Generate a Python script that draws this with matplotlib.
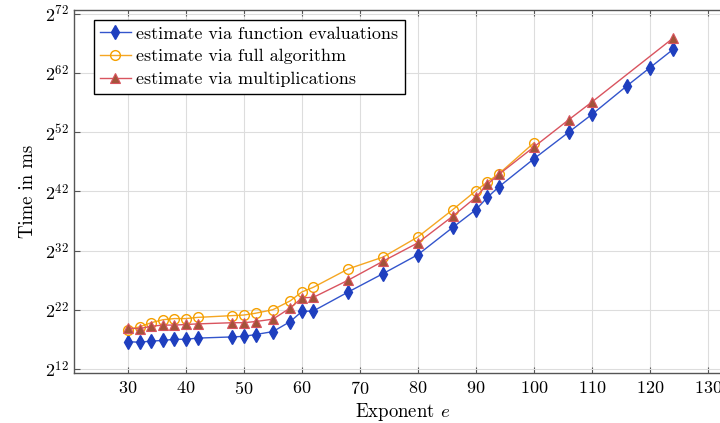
import numpy as np
import matplotlib
matplotlib.use("Agg")
import matplotlib.pyplot as plt
from matplotlib.ticker import FixedLocator, FuncFormatter

plt.rcParams['font.family'] = 'serif'
plt.rcParams['font.serif'] = ['cmr10', 'DejaVu Serif']
plt.rcParams['mathtext.fontset'] = 'cm'
plt.rcParams['axes.formatter.use_mathtext'] = True

# Data (log2 of time in ms)
e_func = [30, 32, 34, 36, 38, 40, 42, 48, 50, 52, 55, 58, 60, 62, 68, 74, 80, 86, 90, 92, 94, 100, 106, 110, 116, 120, 124]
log2_func = [16.6, 16.5, 16.7, 16.8, 17.0, 17.0, 17.2, 17.4, 17.5, 17.8, 18.3, 20.0, 21.7, 21.8, 25.0, 28.1, 31.3, 35.9, 38.9, 41.0, 42.8, 47.5, 52.0, 55.0, 59.8, 62.9, 66.0]

e_full = [30, 32, 34, 36, 38, 40, 42, 48, 50, 52, 55, 58, 60, 62, 68, 74, 80, 86, 90, 92, 94, 100]
log2_full = [18.6, 19.1, 19.8, 20.3, 20.5, 20.5, 20.7, 21.0, 21.1, 21.4, 22.0, 23.5, 25.0, 25.8, 28.9, 30.9, 34.3, 38.9, 42.1, 43.6, 45.0, 50.2]

e_mult = [30, 32, 34, 36, 38, 40, 42, 48, 50, 52, 55, 58, 60, 62, 68, 74, 80, 86, 90, 92, 94, 100, 106, 110, 124]
log2_mult = [18.9, 18.8, 19.2, 19.4, 19.4, 19.5, 19.6, 19.8, 19.8, 20.0, 20.4, 22.3, 24.0, 24.1, 27.0, 30.2, 33.3, 37.8, 41.0, 43.2, 44.9, 49.5, 54.1, 57.1, 67.9]

x_ticks = [30, 40, 50, 60, 70, 80, 90, 100, 110, 120, 130]
y_tick_exps = [12, 22, 32, 42, 52, 62, 72]

labels = ["estimate via function evaluations",
          "estimate via full algorithm",
          "estimate via multiplications"]

fig = plt.figure(figsize=(7.2, 4.23), dpi=100)
ax = fig.add_axes([74/720, 1-373/423, 657/720, 363.5/423])

ax.plot(e_func, 2.0**np.array(log2_func), color='#3355cc', lw=1.0, marker='d',
        ms=7, mfc='#1f3fbf', mec='#1f3fbf', label=labels[0], zorder=3)
ax.plot(e_full, 2.0**np.array(log2_full), color='#f5a623', lw=1.0, marker='o',
        ms=7, mfc='none', mec='#f5a000', mew=1.0, label=labels[1], zorder=3)
ax.plot(e_mult, 2.0**np.array(log2_mult), color='#d9545f', lw=1.0, marker='^',
        ms=7.5, mfc='#a3543a', mec='#d9545f', mew=0.8, label=labels[2], zorder=4)

ax.set_yscale('log', base=2)
ax.set_xlim(20.7, 134)
ax.set_ylim(2.0**11.3, 2.0**72.75)
ax.xaxis.set_major_locator(FixedLocator(x_ticks))
ax.yaxis.set_major_locator(FixedLocator([2.0**v for v in y_tick_exps]))
ax.yaxis.set_minor_locator(FixedLocator([]))
ax.yaxis.set_major_formatter(FuncFormatter(lambda v, p: r'$2^{%d}$' % round(np.log2(v))))
ax.xaxis.set_major_formatter(FuncFormatter(lambda v, p: r'$%d$' % v))

ax.grid(True, color='#dddddd', lw=0.8, zorder=0)
ax.set_axisbelow(True)
ax.tick_params(direction='in', length=4, width=0.8, color='#555555', labelsize=13,
               top=True, right=True)
ax.tick_params(axis='x', pad=5)
for s in ax.spines.values():
    s.set_color('#555555')
    s.set_linewidth(1.0)

ax.set_xlabel(r'Exponent $e$', fontsize=13.5, labelpad=3)
ax.set_ylabel('Time in ms', fontsize=13.5, labelpad=6)

leg = ax.legend(loc='upper left', bbox_to_anchor=(0.030, 0.972), fontsize=13,
                frameon=True, fancybox=False, edgecolor='black', framealpha=1,
                handlelength=1.7, handletextpad=0.3, borderpad=0.35, labelspacing=0.4,
                borderaxespad=0)
leg.get_frame().set_linewidth(1.0)

fig.savefig('out.png', dpi=100)
